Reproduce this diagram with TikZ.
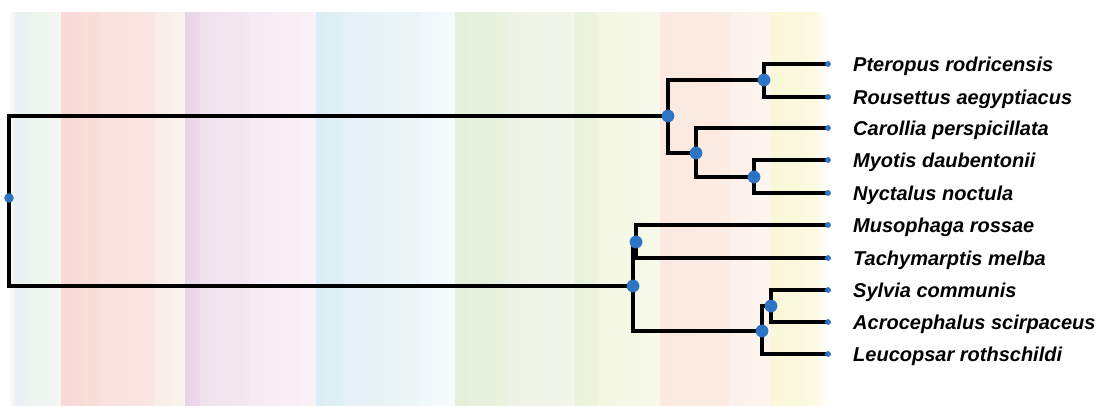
\documentclass[tikz,border=0pt]{standalone}
\usepackage{fontspec}
\setmainfont{Liberation Sans}
\definecolor{dotblue}{RGB}{46,116,196}
\newcommand\bgband[4]{%
  \definecolor{bandL}{HTML}{#3}\definecolor{bandR}{HTML}{#4}%
  \shade[left color=bandL,right color=bandR] (#1,12) rectangle (#2,405);}
\begin{document}
\begin{tikzpicture}[x=1pt,y=-1pt,
  branch/.style={line width=3.1pt,black,line cap=rect},
  innerdot/.style={fill=dotblue,draw=none},
  taxon/.style={anchor=base west,inner sep=0pt,font=\fontsize{20}{23}\selectfont\bfseries\itshape}]
\useasboundingbox (0,0) rectangle (1102,405);
% background bands
\bgband{10}{15}{FBFBF4}{EEF3F2}
\bgband{15}{28}{E8F0F4}{EBF2F0}
\bgband{28}{61}{EDF3EE}{F3F6F1}
\bgband{61}{100}{F7D9D6}{F8DFDA}
\bgband{100}{155}{F9E2DD}{F9E5E2}
\bgband{155}{185}{FAEBE6}{FBF3EF}
\bgband{185}{200}{E8D6E7}{EDDBEA}
\bgband{200}{250}{F0E2EC}{F4E8F0}
\bgband{250}{316}{F6EBF3}{F9F1F6}
\bgband{316}{345}{DAEDF4}{E1EFF6}
\bgband{345}{420}{E5F1F7}{EDF6F5}
\bgband{420}{455}{F0F8FB}{F6FAFC}
\bgband{455}{505}{E6EFDA}{E9F1DF}
\bgband{505}{575}{EDF3E4}{F1F5EA}
\bgband{575}{598}{E8F1D9}{EEF4DF}
\bgband{598}{660}{F3F7E1}{F8F9EA}
\bgband{660}{730}{FBE9E1}{FBECE4}
\bgband{730}{770}{FCF1EA}{FDF6EF}
\bgband{770}{815}{FBF8D9}{FBF9DF}
\bgband{815}{828}{FBFAE5}{FFFFFF}
% tree nodes
\coordinate (root) at (9,198);
\coordinate (bats) at (668,116);
\coordinate (ptn) at (764,80);
\coordinate (can) at (696,153);
\coordinate (myn) at (754,177);
\coordinate (birds) at (633,286);
\coordinate (mun) at (636,242);
\coordinate (scn) at (762,331);
\coordinate (syn) at (771,306);
% leaves
\coordinate (l1) at (828,64);
\coordinate (l2) at (828,97);
\coordinate (l3) at (828,128);
\coordinate (l4) at (828,160);
\coordinate (l5) at (828,193);
\coordinate (l6) at (828,225);
\coordinate (l7) at (828,258);
\coordinate (l8) at (828,290);
\coordinate (l9) at (828,322);
\coordinate (l10) at (828,354);
% branches
\draw[branch] (root) |- (bats);
\draw[branch] (root) |- (birds);
\draw[branch] (bats) |- (ptn);
\draw[branch] (bats) |- (can);
\draw[branch] (ptn) |- (l1);
\draw[branch] (ptn) |- (l2);
\draw[branch] (can) |- (l3);
\draw[branch] (can) |- (myn);
\draw[branch] (myn) |- (l4);
\draw[branch] (myn) |- (l5);
\draw[branch] (birds) |- (mun);
\draw[branch] (birds) |- (scn);
\draw[branch] (mun) |- (l6);
\draw[branch] (birds) |- (l7);
\draw[branch] (mun) |- (l7);
\draw[branch] (scn) |- (syn);
\draw[branch] (scn) |- (l10);
\draw[branch] (syn) |- (l8);
\draw[branch] (syn) |- (l9);
% dots
\fill[innerdot] (root) circle (4.8);
\foreach \n in {bats,ptn,can,myn,birds,mun,scn,syn} \fill[innerdot] (\n) circle (6.4);
\foreach \n in {1,...,10} \fill[innerdot] (l\n) circle (2.9);
% labels
\node[taxon] (t1) at ([xshift=25pt,yshift=-7.1pt]l1) {Pteropus rodricensis};
\node[taxon] (t2) at ([xshift=25pt,yshift=-7.1pt]l2) {Rousettus aegyptiacus};
\node[taxon] (t3) at ([xshift=25pt,yshift=-7.1pt]l3) {Carollia perspicillata};
\node[taxon] (t4) at ([xshift=25pt,yshift=-7.1pt]l4) {Myotis daubentonii};
\node[taxon] (t5) at ([xshift=25pt,yshift=-7.1pt]l5) {Nyctalus noctula};
\node[taxon] (t6) at ([xshift=25pt,yshift=-7.1pt]l6) {Musophaga rossae};
\node[taxon] (t7) at ([xshift=25pt,yshift=-7.1pt]l7) {Tachymarptis melba};
\node[taxon] (t8) at ([xshift=25pt,yshift=-7.1pt]l8) {Sylvia communis};
\node[taxon] (t9) at ([xshift=25pt,yshift=-7.1pt]l9) {Acrocephalus scirpaceus};
\node[taxon] (t10) at ([xshift=25pt,yshift=-7.1pt]l10) {Leucopsar rothschildi};
\end{tikzpicture}
\end{document}
